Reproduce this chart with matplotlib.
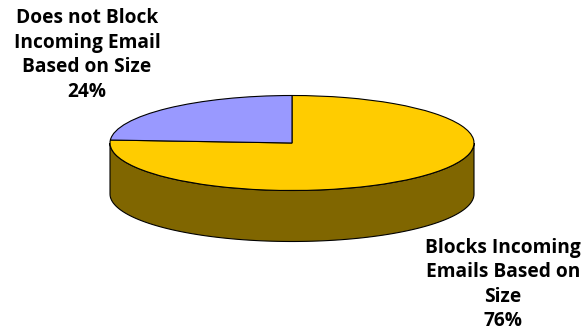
import numpy as np
import matplotlib
matplotlib.use("Agg")
import matplotlib.pyplot as plt
from matplotlib.patches import Wedge, Polygon
from matplotlib.transforms import Affine2D

labels = ["Blocks Incoming\nEmails Based on\nSize\n76%", "Does not Block\nIncoming Email\nBased on Size\n24%"]
shares = [76, 24]
colors = ["#FFCC00", "#9999FF"]
side_color = "#806600"

plt.rcParams['font.family'] = ['Open Sans', 'DejaVu Sans']

fig = plt.figure(figsize=(5.85, 3.31), dpi=100)
ax = fig.add_axes([0, 0, 1, 1])
ax.set_xlim(0, 585)
ax.set_ylim(331, 0)
ax.axis('off')

cx, cy, rx, ry, depth = 292, 143, 182, 47.5, 51

# side wall
t = np.linspace(0, np.pi, 100)
top = np.c_[cx + rx*np.cos(t), cy + ry*np.sin(t)]
bottom = np.c_[cx + rx*np.cos(t[::-1]), cy + depth + ry*np.sin(t[::-1])]
ax.add_patch(Polygon(np.r_[top, bottom], closed=True, fc=side_color, ec='black', lw=0.8))

# top slices, start at 12 o'clock going clockwise
squash = Affine2D().scale(rx, ry).translate(cx, cy) + ax.transData
start = -90
for share, color in zip(shares, colors):
    sweep = 360*share/100
    ax.add_patch(Wedge((0, 0), 1, start, start + sweep, fc=color, ec='black', lw=0.8, transform=squash))
    start += sweep

ax.text(87, 55, labels[1], ha='center', va='center', fontsize=13.8, fontweight='bold', linespacing=1.3)
ax.text(503, 284.5, labels[0], ha='center', va='center', fontsize=13.8, fontweight='bold', linespacing=1.3)

fig.savefig('out.png', dpi=100)
